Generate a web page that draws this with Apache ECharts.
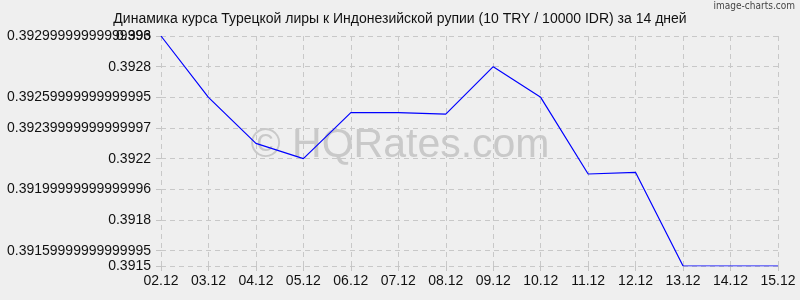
<!DOCTYPE html>
<html>
<head>
<meta charset="utf-8">
<script src="https://cdn.jsdelivr.net/npm/echarts@6/dist/echarts.min.js"></script>
<style>
html,body{margin:0;padding:0;background:#efefef;}
#chart{width:800px;height:300px;}
</style>
</head>
<body>
<div id="chart"></div>
<script>
const titleText = 'Динамика курса Турецкой лиры к Индонезийской рупии (10 TRY / 10000 IDR) за 14 дней';
const categories = ['02.12','03.12','04.12','05.12','06.12','07.12','08.12','09.12','10.12','11.12','12.12','13.12','14.12','15.12'];
const rates = [0.3930, 0.3926, 0.3923, 0.3922, 0.39250, 0.39250, 0.39249, 0.3928, 0.3926, 0.3921, 0.39211, 0.3915, 0.3915, 0.3915];
const yTickValues = [0.3915, 0.3916, 0.3918, 0.3920, 0.3922, 0.3924, 0.3926, 0.3928, 0.3930];
const yTickLabels = ['0.3915','0.39159999999999995','0.3918','0.39199999999999996','0.3922','0.39239999999999997','0.39259999999999995','0.3928','0.39299999999999996'];
const yExtraTickValues = [0.3930];
const yExtraTickLabels = ['0.393'];
const yMin = 0.3915, yMax = 0.3930;

function labelFor(values, labels) {
  return function (v) {
    for (let i = 0; i < values.length; i++) {
      if (Math.abs(values[i] - v) < 1e-9) return labels[i];
    }
    return '';
  };
}

const font = "'Liberation Sans', Arial, sans-serif";
const chart = echarts.init(document.getElementById('chart'), null, {renderer: 'canvas'});
chart.setOption({
  backgroundColor: '#efefef',
  animation: false,
  title: {
    text: titleText,
    left: 'center',
    top: 7,
    textStyle: {fontFamily: font, fontSize: 14, fontWeight: 'normal', color: '#111'}
  },
  graphic: [
    {
      type: 'text', right: 5, top: 1, z: 1,
      style: {text: 'image-charts.com', font: "10px 'DejaVu Sans Condensed', sans-serif", fill: '#444'}
    },
    {
      type: 'text', left: 'center', top: 125, z: 0, silent: true,
      style: {text: '© HQRates.com', font: "41px 'Liberation Sans', Arial, sans-serif", fill: '#c9c9c9'}
    }
  ],
  grid: {left: 161, right: 22, top: 36, bottom: 34, containLabel: false, outerBoundsMode: 'none'},
  xAxis: {
    type: 'category',
    data: categories,
    boundaryGap: false,
    axisLine: {show: false},
    axisTick: {show: true, length: 5, lineStyle: {color: '#c4c4c4'}},
    axisLabel: {fontFamily: font, fontSize: 14, color: '#111', margin: 8},
    splitLine: {show: true, lineStyle: {color: '#c8c8c8', type: [5, 4], width: 1}}
  },
  yAxis: [
    {
      type: 'value',
      min: yMin, max: yMax,
      axisLine: {show: false},
      axisTick: {show: true, length: 5, customValues: yTickValues, lineStyle: {color: '#c4c4c4'}},
      axisLabel: {fontFamily: font, fontSize: 14, color: '#111', margin: 10,
        customValues: yTickValues, formatter: labelFor(yTickValues, yTickLabels), showMinLabel: true, showMaxLabel: true},
      splitLine: {show: true, lineStyle: {color: '#c8c8c8', type: [5, 4], width: 1}}
    },
    {
      type: 'value',
      position: 'left',
      min: yMin, max: yMax,
      axisLine: {show: false},
      axisTick: {show: false, customValues: yExtraTickValues},
      axisLabel: {fontFamily: font, fontSize: 14, color: '#111', margin: 10,
        customValues: yExtraTickValues, formatter: labelFor(yExtraTickValues, yExtraTickLabels), showMinLabel: true, showMaxLabel: true},
      splitLine: {show: false}
    }
  ],
  series: [{
    type: 'line',
    data: rates,
    yAxisIndex: 0,
    symbol: 'none',
    lineStyle: {color: '#0000ff', width: 1.2},
    z: 5
  }]
});
</script>
</body>
</html>
